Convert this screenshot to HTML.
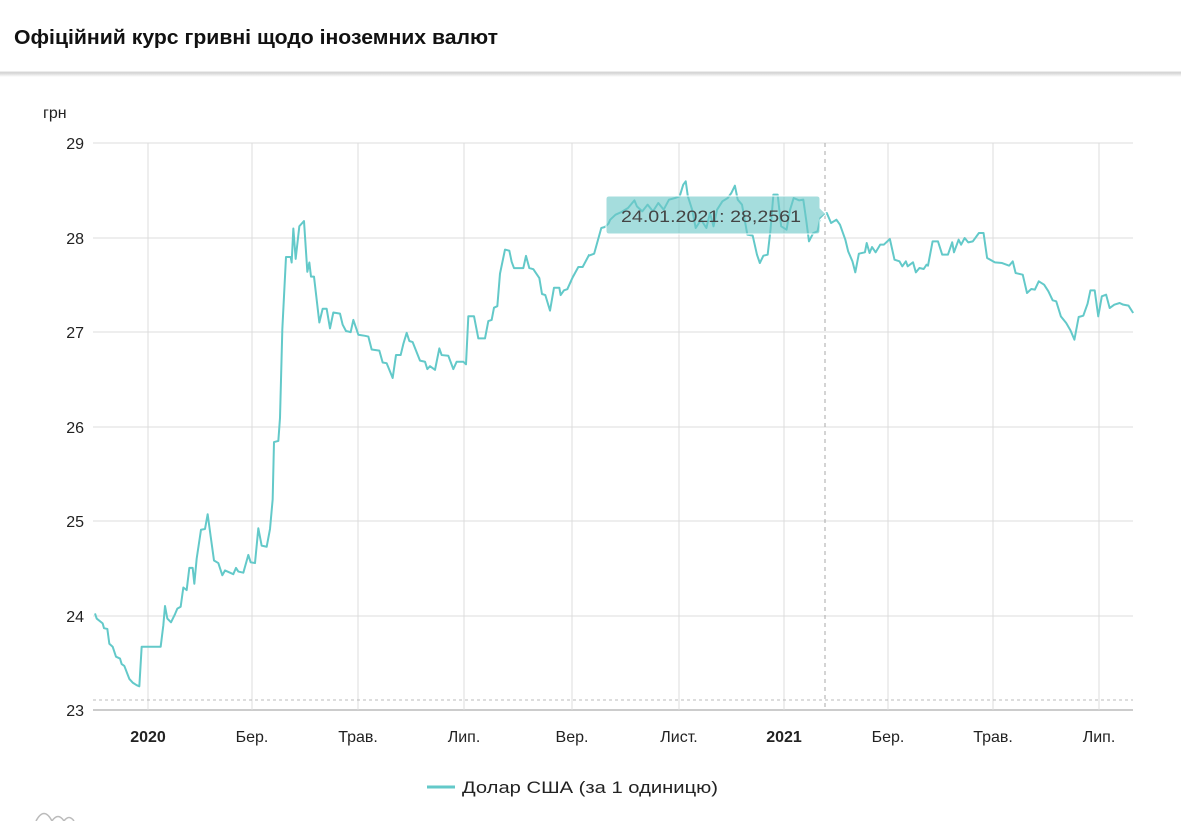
<!DOCTYPE html>
<html><head><meta charset="utf-8"><style>
body{margin:0;background:#fff;width:1181px;height:821px;overflow:hidden;font-family:"Liberation Sans",sans-serif;}
</style></head><body>
<svg width="1181" height="821" xmlns="http://www.w3.org/2000/svg" style="position:absolute;left:0;top:0">
<defs><linearGradient id="sh" x1="0" y1="0" x2="0" y2="1"><stop offset="0" stop-color="#ccc"/><stop offset="1" stop-color="#fff"/></linearGradient></defs>
<rect x="0" y="72" width="1181" height="5" fill="url(#sh)"/>
<line x1="0" y1="72" x2="1181" y2="72" stroke="#d8d8d8"/>
<text x="14" y="44" font-size="20" font-weight="bold" fill="#111" textLength="484" lengthAdjust="spacingAndGlyphs">Офіційний курс гривні щодо іноземних валют</text>
<text x="43" y="118" font-size="16" fill="#222">грн</text>
<g stroke="#dcdcdc" stroke-width="1">
<line x1="93" y1="143" x2="1133" y2="143"/><line x1="93" y1="238" x2="1133" y2="238"/><line x1="93" y1="332" x2="1133" y2="332"/><line x1="93" y1="427" x2="1133" y2="427"/><line x1="93" y1="521" x2="1133" y2="521"/><line x1="93" y1="616" x2="1133" y2="616"/><line x1="93" y1="710" x2="1133" y2="710" stroke="#ccc" stroke-width="2"/>
<line x1="148" y1="143" x2="148" y2="710"/><line x1="252" y1="143" x2="252" y2="710"/><line x1="358" y1="143" x2="358" y2="710"/><line x1="464" y1="143" x2="464" y2="710"/><line x1="572" y1="143" x2="572" y2="710"/><line x1="679" y1="143" x2="679" y2="710"/><line x1="784" y1="143" x2="784" y2="710"/><line x1="888" y1="143" x2="888" y2="710"/><line x1="993" y1="143" x2="993" y2="710"/><line x1="1099" y1="143" x2="1099" y2="710"/>
</g>
<line x1="93" y1="700" x2="1133" y2="700" stroke="#bbb" stroke-dasharray="3,3"/>
<line x1="825" y1="143" x2="825" y2="710" stroke="#aaa" stroke-dasharray="4,4"/>
<g font-size="16" fill="#222" text-anchor="end">
<text x="84" y="149">29</text><text x="84" y="244">28</text><text x="84" y="338">27</text><text x="84" y="433">26</text><text x="84" y="527">25</text><text x="84" y="622">24</text><text x="84" y="716">23</text>
</g>
<g font-size="16" fill="#222" text-anchor="middle">
<text x="148" y="742" font-weight="bold">2020</text><text x="252" y="742">Бер.</text><text x="358" y="742">Трав.</text><text x="464" y="742">Лип.</text><text x="572" y="742">Вер.</text><text x="679" y="742">Лист.</text><text x="784" y="742" font-weight="bold">2021</text><text x="888" y="742">Бер.</text><text x="993" y="742">Трав.</text><text x="1099" y="742">Лип.</text>
</g>
<g transform="translate(90,129.3) scale(0.33333,0.3701)">
<polyline fill="none" stroke="#63c9c9" stroke-width="2" vector-effect="non-scaling-stroke" stroke-linejoin="round" points="15,1308 20,1322 38,1335 42,1348 52,1350 58,1390 68,1398 78,1425 90,1430 95,1445 103,1450 118,1485 128,1495 140,1502 148,1505 155,1398 212,1398 220,1340 225,1288 232,1322 243,1332 255,1310 262,1295 272,1290 280,1238 290,1245 298,1185 308,1185 313,1228 320,1160 333,1082 345,1080 353,1040 362,1100 372,1165 385,1172 397,1205 405,1192 420,1198 430,1202 438,1185 445,1195 460,1198 475,1150 482,1170 495,1172 505,1078 515,1125 530,1128 540,1080 548,1000 552,845 565,842 570,780 577,540 588,345 602,345 605,360 610,268 617,350 628,262 642,248 652,385 658,360 663,398 672,398 688,522 698,485 710,485 720,538 730,495 750,498 758,528 768,545 782,548 790,515 805,555 825,558 835,560 845,595 868,598 878,630 890,632 908,672 918,610 932,610 940,580 950,550 958,572 968,575 990,625 1005,628 1012,648 1020,640 1035,650 1048,592 1055,610 1075,612 1090,648 1100,628 1120,628 1128,635 1135,505 1152,505 1165,565 1185,565 1195,518 1205,515 1212,482 1222,478 1230,390 1245,325 1258,328 1265,358 1272,375 1300,375 1308,342 1318,375 1330,378 1348,402 1356,445 1366,448 1380,490 1392,428 1408,428 1412,448 1422,435 1432,432 1448,400 1465,372 1478,372 1498,338"/>
</g>
<g transform="translate(581.7,129.67) scale(0.35625,0.33333)">
<polyline fill="none" stroke="#63c9c9" stroke-width="2" vector-effect="non-scaling-stroke" stroke-linejoin="round" points="20,378 35,372 42,345 55,295 65,292 75,282 80,270 95,255 110,248 130,235 148,212 155,230 170,245 185,225 200,245 215,220 230,240 245,210 262,205 275,200 285,165 292,155 298,200 310,240 320,295 335,270 350,295 360,250 370,290 380,240 395,215 410,205 420,190 430,168 438,210 450,225 465,315 480,318 492,375 500,400 510,378 522,375 530,300 538,195 550,195 560,290 575,300 585,240 595,205 610,212 622,210 630,270 638,335 650,310 662,305 670,265 688,250 700,280 715,270 725,285 740,330 748,365 760,395 768,428 778,372 795,368 800,340 808,370 815,352 825,368 838,345 848,345 865,328 878,390 892,395 900,410 910,395 915,410 930,398 938,428 948,415 960,418 968,405 972,408 985,335 1000,335 1012,375 1028,375 1040,338 1045,368 1058,330 1065,345 1075,325 1085,338 1098,335 1115,310 1128,310 1138,385 1160,398 1180,400 1200,408 1210,395 1218,430 1238,435 1250,490 1262,478 1272,480 1283,455 1298,465 1310,485 1322,512 1332,515 1345,560 1360,580 1372,602 1383,630 1395,562 1408,558 1420,522 1428,482 1440,482 1450,560 1460,500 1472,495 1482,535 1495,525 1510,520 1520,525 1535,528 1548,550"/>
</g>
<path d="M609,196 H817 Q820,196 820,199 V208 L826,214 L820,220 V231 Q820,234 817,234 H609 Q606,234 606,231 V199 Q606,196 609,196 Z" fill="rgba(110,200,200,0.62)" stroke="#fff" stroke-width="1"/>
<text x="621" y="222" font-size="17" fill="#444" textLength="180" lengthAdjust="spacingAndGlyphs">24.01.2021: 28,2561</text>
<line x1="427" y1="787" x2="455" y2="787" stroke="#63c9c9" stroke-width="3"/>
<text x="462" y="793" font-size="17" fill="#222" textLength="256" lengthAdjust="spacingAndGlyphs">Долар США (за 1 одиницю)</text>
<path d="M36,821 Q44,806 52,821 M52,821 Q58,812 64,821 M64,821 Q69,814 74,821" fill="none" stroke="#bbb" stroke-width="1.5"/>
</svg>
</body></html>
